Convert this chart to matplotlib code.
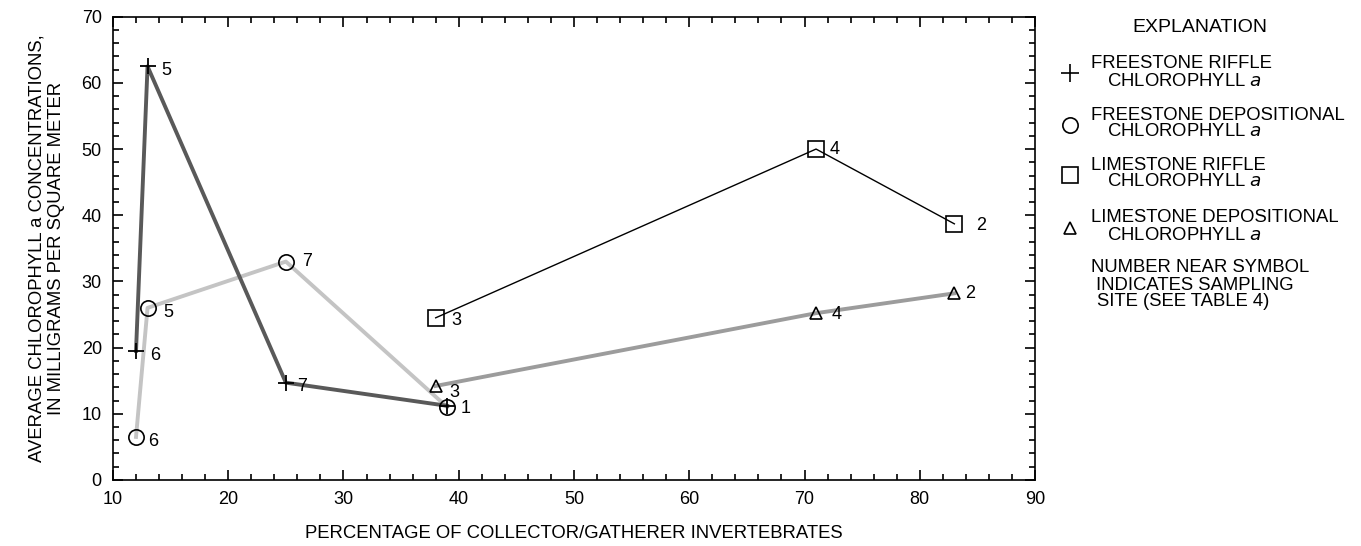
import matplotlib
matplotlib.use("Agg")
import matplotlib.pyplot as plt
from matplotlib.lines import Line2D
from matplotlib.ticker import MultipleLocator

plt.rcParams['font.family'] = ['Liberation Sans', 'DejaVu Sans']

# Data
fr_x = [12, 13, 25, 39]
fr_y = [19.5, 62.5, 14.7, 11.2]
fr_site = ["6", "5", "7", "1"]

fd_x = [12, 13, 25, 39]
fd_y = [6.5, 26, 33, 11]
fd_site = ["6", "5", "7", "1"]

lr_x = [38, 71, 83]
lr_y = [24.5, 50, 38.7]
lr_site = ["3", "4", "2"]

ld_x = [38, 71, 83]
ld_y = [14.2, 25.2, 28.2]
ld_site = ["3", "4", "2"]

x_ticks = [10, 20, 30, 40, 50, 60, 70, 80, 90]
y_ticks = [0, 10, 20, 30, 40, 50, 60, 70]

fig = plt.figure(figsize=(13.61, 5.46), dpi=100)
ax = fig.add_axes([0.083, 0.121, 0.6775, 0.8484])

# lines
ax.plot(fd_x, fd_y, color='#c4c4c4', lw=2.8, zorder=2)
ax.plot(ld_x, ld_y, color='#9c9c9c', lw=2.8, zorder=2)
ax.plot(fr_x, fr_y, color='#595959', lw=2.8, zorder=3)
ax.plot(lr_x, lr_y, color='black', lw=1.0, zorder=3)

# markers
ax.plot(fr_x, fr_y, ls='none', marker='+', ms=12, mew=1.3, color='black', zorder=5)
ax.plot(fd_x, fd_y, ls='none', marker='o', ms=11, mew=1.2, mfc='none', mec='black', zorder=5)
ax.plot(lr_x, lr_y, ls='none', marker='s', ms=11, mew=1.2, mfc='none', mec='black', zorder=5)
ax.plot(ld_x, ld_y, ls='none', marker='^', ms=8.5, mew=1.2, mfc='none', mec='black', zorder=5)

lab_kw = dict(textcoords='offset points', fontsize=13, va='center', ha='left')
def label(xs, ys, sites, offs):
    for x, y, s, o in zip(xs, ys, sites, offs):
        if o is None:
            continue
        ax.annotate(s, (x, y), xytext=o, **lab_kw)

# site 1 is shared by the overlapping freestone symbols: labelled once
label(fr_x, fr_y, fr_site, [(10, -3), (10, -3), (8, -3), None])
label(fd_x, fd_y, fd_site, [(9, -3), (11, -3), (12, 0), (10, -1)])
label(lr_x, lr_y, lr_site, [(11, -2), (10, 0), (16, -1)])
label(ld_x, ld_y, ld_site, [(10, -5), (11, -1), (8, 0)])

ax.set_xlim(10, 90)
ax.set_ylim(0, 70)
ax.set_xticks(x_ticks)
ax.set_yticks(y_ticks)
ax.xaxis.set_minor_locator(MultipleLocator(2))
ax.yaxis.set_minor_locator(MultipleLocator(2))
ax.tick_params(which='both', direction='in', top=True, right=True, width=1.2)
ax.tick_params(which='major', length=7, labelsize=13, pad=8)
ax.tick_params(which='minor', length=4)
for sp in ax.spines.values():
    sp.set_linewidth(1.2)

ax.set_xlabel('PERCENTAGE OF COLLECTOR/GATHERER INVERTEBRATES', fontsize=13.3, labelpad=12)
ax.set_ylabel('AVERAGE CHLOROPHYLL a CONCENTRATIONS,\nIN MILLIGRAMS PER SQUARE METER',
              fontsize=13.3, labelpad=12, linespacing=1.2)

# Explanation legend
def px(x, y):
    return x / 1361, 1 - y / 546

fs = 13.3
fig.text(*px(1200, 27), 'EXPLANATION', fontsize=14, ha='center', va='center')
entries = [
    ('+', 13, 'FREESTONE RIFFLE', 64, 73),
    ('o', 11, 'FREESTONE DEPOSITIONAL', 115, 125),
    ('s', 11, 'LIMESTONE RIFFLE', 165, 175),
    ('^', 9, 'LIMESTONE DEPOSITIONAL', 218, 228),
]
for mk, ms, name, ty, my in entries:
    mx, myf = px(1070, my)
    fig.lines.append(Line2D([mx], [myf], marker=mk, ms=ms, mew=1.2,
                            mfc='none', mec='black', color='black',
                            ls='none', transform=fig.transFigure))
    fig.text(*px(1091, ty), name, fontsize=fs, ha='left', va='center')
    fig.text(*px(1107, ty + 17), r'CHLOROPHYLL $\it{a}$', fontsize=fs, ha='left', va='center')

fig.text(*px(1091, 267), 'NUMBER NEAR SYMBOL', fontsize=fs, ha='left', va='center')
fig.text(*px(1096, 285), 'INDICATES SAMPLING', fontsize=fs, ha='left', va='center')
fig.text(*px(1097, 302), 'SITE (SEE TABLE 4)', fontsize=fs, ha='left', va='center')

fig.savefig('out.png', dpi=100)
